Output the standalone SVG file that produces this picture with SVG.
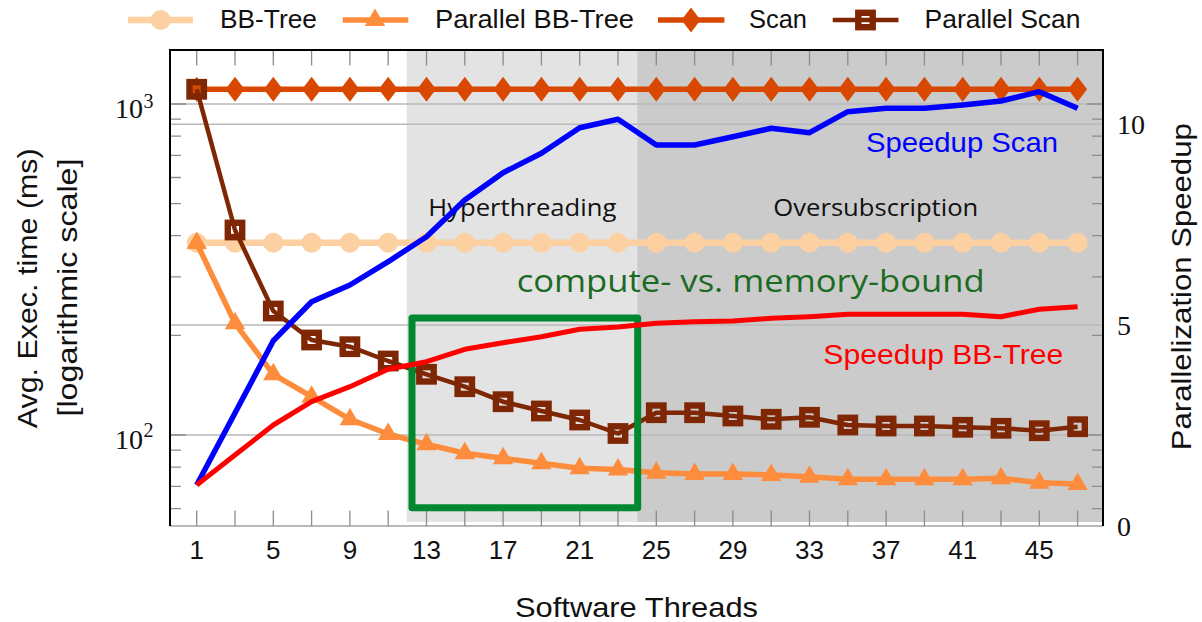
<svg xmlns="http://www.w3.org/2000/svg" width="1202" height="622" viewBox="0 0 1202 622">
  <style>
    .sans { font-family: "Liberation Sans", "DejaVu Sans", sans-serif; fill: #111; }
    .serif { font-family: "Liberation Serif", "DejaVu Serif", serif; fill: #111; }
    .note { font-family: "Open Sans", "DejaVu Sans", sans-serif; }
    .grid { stroke: #b9b9b9; stroke-width: 1.4; fill: none; }
    .tick { stroke: #8c8c8c; stroke-width: 1.3; fill: none; }
    .frame { stroke: #000; stroke-width: 2; fill: none; }
    .s-bb { stroke: #fdd0a2; stroke-width: 6.5; fill: none; stroke-linejoin: round; }
    .s-pbb { stroke: #fd8d3c; stroke-width: 5.5; fill: none; stroke-linejoin: round; }
    .s-scan { stroke: #d94801; stroke-width: 5.5; fill: none; stroke-linejoin: round; }
    .s-pscan { stroke: #7f2704; stroke-width: 4.5; fill: none; stroke-linejoin: round; }
    .s-blue { stroke: #0000ff; stroke-width: 5.5; fill: none; stroke-linejoin: round; }
    .s-red { stroke: #ff0000; stroke-width: 5; fill: none; stroke-linejoin: round; }
    .sq { fill: none; stroke: #7f2704; stroke-width: 6.4; }
  </style>
  <defs>
    <marker id="mk-circle" markerUnits="userSpaceOnUse" viewBox="-12 -12 24 24" refX="0" refY="0" markerWidth="24" markerHeight="24" overflow="visible">
      <circle r="10" fill="#fdd0a2"/>
    </marker>
    <marker id="mk-tri" markerUnits="userSpaceOnUse" viewBox="-12 -12 24 24" refX="0" refY="0" markerWidth="24" markerHeight="24" overflow="visible">
      <polygon points="0,-11.5 -10.2,6 10.2,6" fill="#fd8d3c"/>
    </marker>
    <marker id="mk-diamond" markerUnits="userSpaceOnUse" viewBox="-12 -12 24 24" refX="0" refY="0" markerWidth="24" markerHeight="24" overflow="visible">
      <polygon points="0,-12.5 9.5,0 0,12.5 -9.5,0" fill="#d94801"/>
    </marker>
    <marker id="mk-square" markerUnits="userSpaceOnUse" viewBox="-12 -12 24 24" refX="0" refY="0" markerWidth="24" markerHeight="24" overflow="visible">
      <rect class="sq" x="-7.2" y="-7.2" width="14.4" height="14.4"/>
    </marker>
  </defs>

  <rect width="1202" height="622" fill="#fff"/>

  <!-- legend -->
  <g id="legend">
    <g id="legend-bbtree">
      <line class="s-bb" x1="128" y1="20" x2="193" y2="20"/>
      <circle cx="160.7" cy="20" r="10" fill="#fdd0a2"/>
      <text class="sans" x="220" y="27.5" font-size="26" textLength="97" lengthAdjust="spacingAndGlyphs">BB-Tree</text>
    </g>
    <g id="legend-parallel-bbtree">
      <line class="s-pbb" x1="342.7" y1="20" x2="408.3" y2="20"/>
      <polygon points="375,8.5 364.8,26 385.2,26" fill="#fd8d3c"/>
      <text class="sans" x="435" y="27.5" font-size="26" textLength="199" lengthAdjust="spacingAndGlyphs">Parallel BB-Tree</text>
    </g>
    <g id="legend-scan">
      <line class="s-scan" x1="658" y1="20" x2="724.4" y2="20"/>
      <polygon points="691,7.5 700.5,20 691,32.5 681.5,20" fill="#d94801"/>
      <text class="sans" x="749" y="27.5" font-size="26" textLength="58" lengthAdjust="spacingAndGlyphs">Scan</text>
    </g>
    <g id="legend-parallel-scan">
      <line class="s-pscan" x1="832.7" y1="20" x2="898.5" y2="20"/>
      <rect class="sq" x="858.3" y="12.8" width="14.4" height="14.4"/>
      <text class="sans" x="924.5" y="27.5" font-size="26" textLength="156" lengthAdjust="spacingAndGlyphs">Parallel Scan</text>
    </g>
  </g>

  <!-- shaded thread regions -->
  <g id="regions">
    <rect id="region-hyperthreading" x="406.7" y="50" width="230.5" height="472" fill="#e3e3e3"/>
    <rect id="region-oversubscription" x="637.2" y="50" width="465.8" height="472" fill="#cbcbcb"/>
  </g>

  <!-- grid lines -->
  <g id="grid">
    <line class="grid" x1="170" y1="104" x2="1103" y2="104"/>
    <line class="grid" x1="170" y1="124.3" x2="1103" y2="124.3"/>
    <line class="grid" x1="170" y1="325" x2="1103" y2="325"/>
    <line class="grid" x1="170" y1="435" x2="1103" y2="435"/>
    <line x1="170" y1="526" x2="1103" y2="526" stroke="#b9b9b9" stroke-width="2"/>
  </g>

  <!-- tick marks -->
  <g id="ticks" class="tick">
    <path d="M196.7 510.5V526M235 510.5V526M273.3 510.5V526M311.6 510.5V526M349.9 510.5V526M388.2 510.5V526M426.5 510.5V526M464.8 510.5V526M503.1 510.5V526M541.4 510.5V526M579.7 510.5V526M618 510.5V526M656.3 510.5V526M694.6 510.5V526M732.9 510.5V526M771.2 510.5V526M809.5 510.5V526M847.8 510.5V526M886.1 510.5V526M924.4 510.5V526M962.7 510.5V526M1001 510.5V526M1039.3 510.5V526M1077.6 510.5V526"/>
    <path d="M196.7 50V65.5M235 50V65.5M273.3 50V65.5M311.6 50V65.5M349.9 50V65.5M388.2 50V65.5M426.5 50V65.5M464.8 50V65.5M503.1 50V65.5M541.4 50V65.5M579.7 50V65.5M618 50V65.5M656.3 50V65.5M694.6 50V65.5M732.9 50V65.5M771.2 50V65.5M809.5 50V65.5M847.8 50V65.5M886.1 50V65.5M924.4 50V65.5M962.7 50V65.5M1001 50V65.5M1039.3 50V65.5M1077.6 50V65.5"/>
    <path d="M170 104H186M170 435H186M170 508.6H181M170 486.4H181M170 467.1H181M170 450.2H181M170 335.4H181M170 276.9H181M170 235.7H181M170 203.6H181M170 177.5H181M170 155.3H181M170 136.1H181M170 119.2H181"/>
    <path d="M1103 104H1087M1103 435H1087M1103 508.6H1092M1103 486.4H1092M1103 467.1H1092M1103 450.2H1092M1103 335.4H1092M1103 276.9H1092M1103 235.7H1092M1103 203.6H1092M1103 177.5H1092M1103 155.3H1092M1103 136.1H1092M1103 119.2H1092"/>
  </g>

  <!-- region and bound annotations -->
  <g id="annotations">
    <text class="note" x="428.3" y="216" font-size="24" fill="#111" textLength="188" lengthAdjust="spacingAndGlyphs">Hyperthreading</text>
    <text class="note" x="773.3" y="216" font-size="24" fill="#111" textLength="205" lengthAdjust="spacingAndGlyphs">Oversubscription</text>
    <text class="note" x="516.7" y="292" font-size="31" fill="#1b6b22" textLength="468" lengthAdjust="spacingAndGlyphs">compute- vs. memory-bound</text>
  </g>

  <!-- execution time series (log axis) -->
  <g id="connectors">
    <g id="series-bbtree">
      <polyline class="s-bb" marker-start="url(#mk-circle)" marker-mid="url(#mk-circle)" marker-end="url(#mk-circle)" points="196.7,242.7 235,242.7 273.3,242.7 311.6,242.7 349.9,242.7 388.2,242.7 426.5,242.7 464.8,242.7 503.1,242.7 541.4,242.7 579.7,242.7 618,242.7 656.3,242.7 694.6,242.7 732.9,242.7 771.2,242.7 809.5,242.7 847.8,242.7 886.1,242.7 924.4,242.7 962.7,242.7 1001,242.7 1039.3,242.7 1077.6,242.7"/>
    </g>
    <g id="series-parallel-bbtree">
      <polyline class="s-pbb" marker-start="url(#mk-tri)" marker-mid="url(#mk-tri)" marker-end="url(#mk-tri)" points="196.7,243 235,323.3 273.3,374.3 311.6,396.7 349.9,419.3 388.2,434 426.5,444.3 464.8,453.3 503.1,458.3 541.4,463.3 579.7,468.3 618,469.5 656.3,472.7 694.6,474 732.9,474 771.2,475 809.5,476.7 847.8,479.3 886.1,479.3 924.4,479.3 962.7,479.3 1001,478.3 1039.3,482.7 1077.6,484"/>
    </g>
    <g id="series-scan">
      <polyline class="s-scan" marker-start="url(#mk-diamond)" marker-mid="url(#mk-diamond)" marker-end="url(#mk-diamond)" points="196.7,89.3 235,89.3 273.3,89.3 311.6,89.3 349.9,89.3 388.2,89.3 426.5,89.3 464.8,89.3 503.1,89.3 541.4,89.3 579.7,89.3 618,89.3 656.3,89.3 694.6,89.3 732.9,89.3 771.2,89.3 809.5,89.3 847.8,89.3 886.1,89.3 924.4,89.3 962.7,89.3 1001,89.3 1039.3,89.3 1077.6,89.3"/>
    </g>
    <g id="series-parallel-scan">
      <polyline class="s-pscan" marker-start="url(#mk-square)" marker-mid="url(#mk-square)" marker-end="url(#mk-square)" points="196.7,89.3 235,230 273.3,311 311.6,340 349.9,346.7 388.2,361 426.5,374.3 464.8,386.7 503.1,401.7 541.4,411 579.7,420 618,433.5 656.3,412.7 694.6,412.7 732.9,416 771.2,419.3 809.5,417.3 847.8,425 886.1,426 924.4,426 962.7,427.3 1001,428.3 1039.3,430.7 1077.6,426.7"/>
    </g>
  </g>

  <!-- highlight box -->
  <g id="highlight-box">
    <rect x="412" y="318" width="225.7" height="189.7" fill="none" stroke="#008830" stroke-width="7" stroke-linejoin="round"/>
  </g>

  <!-- speedup series (linear right axis) -->
  <g id="speedup">
    <g id="series-speedup-scan">
      <polyline class="s-blue" points="196.7,485 235,413 273.3,340.7 311.6,301.7 349.9,285 388.2,261.7 426.5,236.7 464.8,200 503.1,172.7 541.4,153.3 579.7,127.7 618,119.3 656.3,145 694.6,145 732.9,136.7 771.2,128.3 809.5,132.7 847.8,111.7 886.1,108.3 924.4,108.3 962.7,105 1001,101 1039.3,91.7 1077.6,108.3"/>
      <text x="866" y="152" font-size="28" fill="#0000ff" font-family="Liberation Sans, sans-serif" textLength="192" lengthAdjust="spacingAndGlyphs">Speedup Scan</text>
    </g>
    <g id="series-speedup-bbtree">
      <polyline class="s-red" points="196.7,485 235,455 273.3,425 311.6,401.7 349.9,386.7 388.2,369.3 426.5,361.7 464.8,349.3 503.1,342.7 541.4,336.7 579.7,329.3 618,327 656.3,323.3 694.6,321.7 732.9,321 771.2,318.3 809.5,316.7 847.8,314.3 886.1,314.3 924.4,314.3 962.7,314.3 1001,316.7 1039.3,309.3 1077.6,306.7"/>
      <text x="823.3" y="363.5" font-size="27" fill="#ff0000" font-family="Liberation Sans, sans-serif" textLength="240" lengthAdjust="spacingAndGlyphs">Speedup BB-Tree</text>
    </g>
  </g>

  <!-- plot frame -->
  <g id="frame">
    <path class="frame" d="M170 526V50H1103V526"/>
  </g>

  <!-- axis labels -->
  <g id="x-axis-labels" class="sans" font-size="26" text-anchor="middle">
    <text x="196.7" y="558.5">1</text>
    <text x="273.3" y="558.5">5</text>
    <text x="349.9" y="558.5">9</text>
    <text x="426.5" y="558.5">13</text>
    <text x="503.1" y="558.5">17</text>
    <text x="579.7" y="558.5">21</text>
    <text x="656.3" y="558.5">25</text>
    <text x="732.9" y="558.5">29</text>
    <text x="809.5" y="558.5">33</text>
    <text x="886.1" y="558.5">37</text>
    <text x="962.7" y="558.5">41</text>
    <text x="1039.3" y="558.5">45</text>
  </g>
  <text class="sans" x="636.5" y="617" font-size="28" text-anchor="middle" textLength="243" lengthAdjust="spacingAndGlyphs">Software Threads</text>

  <g id="y-axis-left-labels" class="serif">
    <text x="143" y="118.3" font-size="28" text-anchor="end">10</text>
    <text x="143.5" y="108.3" font-size="20">3</text>
    <text x="143" y="449.3" font-size="28" text-anchor="end">10</text>
    <text x="143.5" y="437" font-size="20">2</text>
  </g>
  <g id="y-axis-right-labels" class="serif" font-size="28">
    <text x="1117" y="134">10</text>
    <text x="1117" y="335">5</text>
    <text x="1117" y="536">0</text>
  </g>

  <g id="y-axis-left-title" class="sans" font-size="28" text-anchor="middle">
    <text transform="translate(37 288.3) rotate(-90)" textLength="280" lengthAdjust="spacingAndGlyphs">Avg. Exec. time (ms)</text>
    <text transform="translate(77 287.5) rotate(-90)" textLength="258" lengthAdjust="spacingAndGlyphs">[logarithmic scale]</text>
  </g>
  <g id="y-axis-right-title" class="sans" font-size="28" text-anchor="middle">
    <text transform="translate(1191 286.7) rotate(-90)" textLength="327" lengthAdjust="spacingAndGlyphs">Parallelization Speedup</text>
  </g>
</svg>
